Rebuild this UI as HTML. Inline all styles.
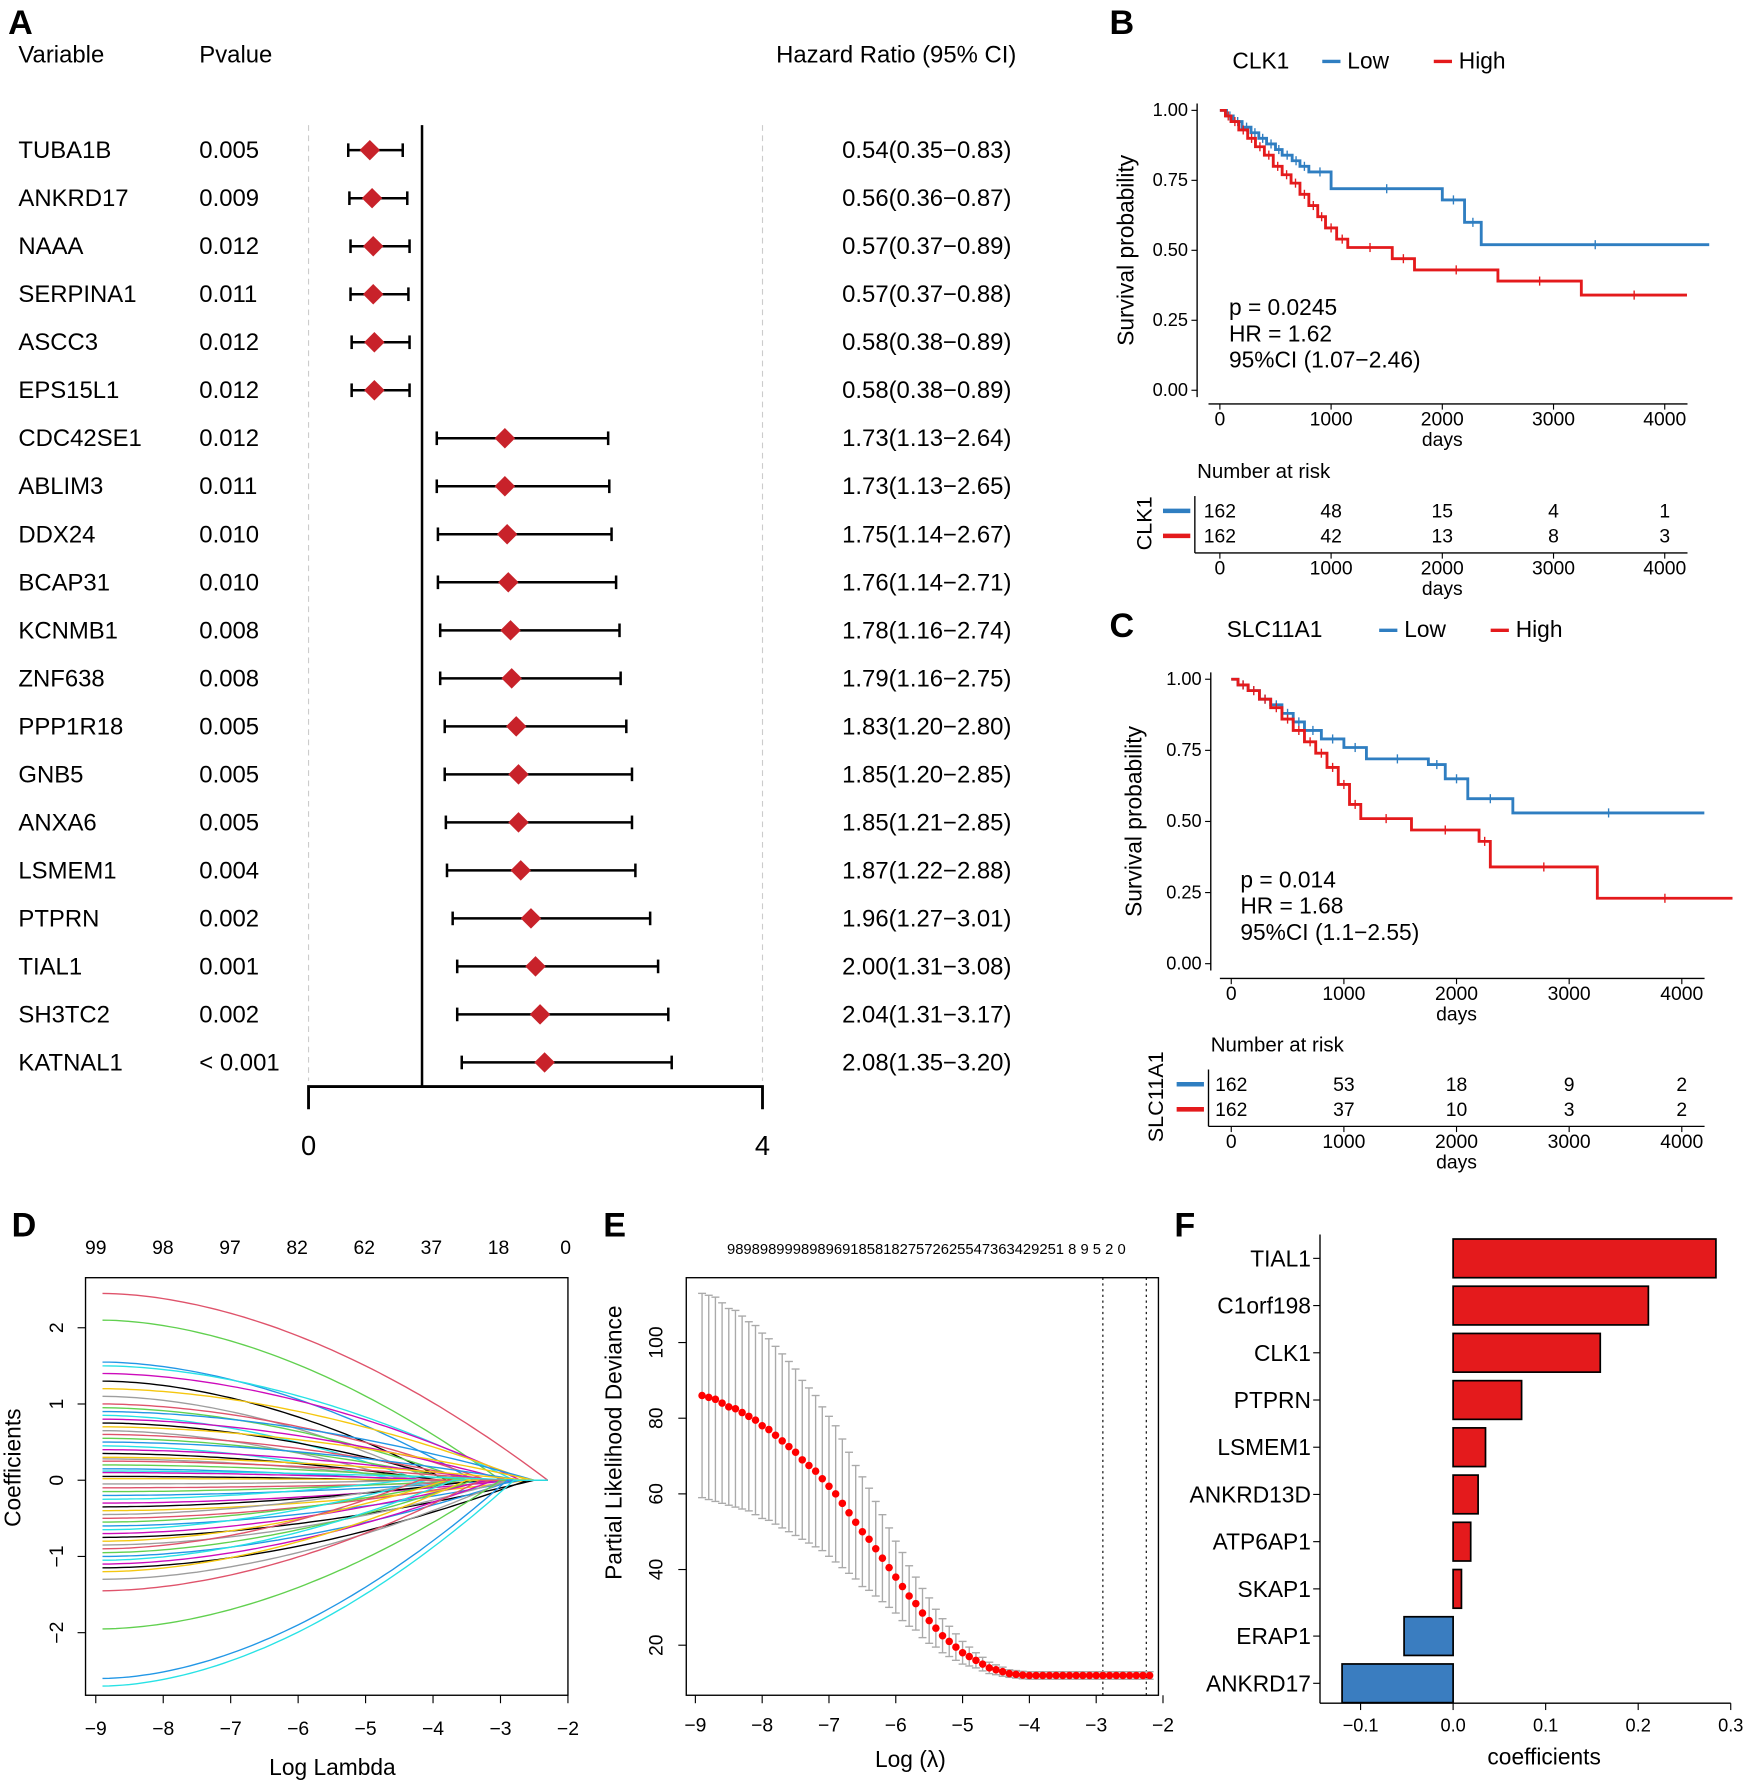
<!DOCTYPE html>
<html><head><meta charset="utf-8"><style>
html,body{margin:0;padding:0;background:#fff}
svg{display:block;font-family:"Liberation Sans",Arial,sans-serif}
</style></head><body>
<svg id="fig" width="1748" height="1784" viewBox="0 0 1536 1568" xmlns="http://www.w3.org/2000/svg"></svg>
<script>
// ---------- Panel A data ----------
const genes=["TUBA1B","ANKRD17","NAAA","SERPINA1","ASCC3","EPS15L1","CDC42SE1","ABLIM3","DDX24","BCAP31","KCNMB1","ZNF638","PPP1R18","GNB5","ANXA6","LSMEM1","PTPRN","TIAL1","SH3TC2","KATNAL1"];
const pvals=["0.005","0.009","0.012","0.011","0.012","0.012","0.012","0.011","0.010","0.010","0.008","0.008","0.005","0.005","0.005","0.004","0.002","0.001","0.002","< 0.001"];
const hr=[0.54,0.56,0.57,0.57,0.58,0.58,1.73,1.73,1.75,1.76,1.78,1.79,1.83,1.85,1.85,1.87,1.96,2.00,2.04,2.08];
const lo=[0.35,0.36,0.37,0.37,0.38,0.38,1.13,1.13,1.14,1.14,1.16,1.16,1.20,1.20,1.21,1.22,1.27,1.31,1.31,1.35];
const hi=[0.83,0.87,0.89,0.88,0.89,0.89,2.64,2.65,2.67,2.71,2.74,2.75,2.80,2.85,2.85,2.88,3.01,3.08,3.17,3.20];
// ---------- KM data ----------
const bLowT=[60,120,200,280,350,420,500,560,650,720,800,1000,2000,2200,2350];
const bLowS=[0.98,0.96,0.94,0.92,0.90,0.88,0.86,0.84,0.82,0.80,0.78,0.72,0.68,0.60,0.52];
const bHighT=[50,100,170,250,320,400,480,560,640,720,800,880,950,1050,1150,1550,1750,2500,3250];
const bHighS=[0.98,0.96,0.93,0.90,0.87,0.84,0.80,0.77,0.74,0.70,0.66,0.62,0.58,0.54,0.51,0.47,0.43,0.39,0.34];
const cLowT=[60,150,250,350,450,550,650,800,1000,1200,1750,1900,2100,2500];
const cLowS=[0.98,0.96,0.93,0.91,0.88,0.85,0.82,0.79,0.76,0.72,0.70,0.65,0.58,0.53];
const cHighT=[60,150,250,350,450,550,650,750,850,950,1050,1150,1600,2200,2300,3250];
const cHighS=[0.98,0.96,0.93,0.90,0.86,0.82,0.78,0.74,0.69,0.63,0.56,0.51,0.47,0.43,0.34,0.23];
const bRiskLow=[162,48,15,4,1], bRiskHigh=[162,42,13,8,3];
const cRiskLow=[162,53,18,9,2], cRiskHigh=[162,37,10,3,2];
// ---------- Panel D data ----------
const dStart=[2.45,2.1,1.55,1.5,1.4,1.3,1.2,1.1,1.0,0.95,0.9,0.85,0.8,0.75,0.7,0.65,0.6,0.55,0.5,0.45,0.4,0.35,0.3,0.28,0.25,0.2,0.15,0.12,0.1,0.05,0.02,-0.05,-0.1,-0.15,-0.2,-0.25,-0.3,-0.35,-0.4,-0.45,-0.5,-0.55,-0.6,-0.65,-0.7,-0.75,-0.8,-0.85,-0.9,-0.95,-1.0,-1.05,-1.1,-1.15,-1.2,-1.3,-1.45,-1.95,-2.6,-2.7];
const dZero=[-2.3,-3.0,-3.4,-2.8,-2.7,-3.8,-2.6,-4.0,-3.2,-3.5,-2.5,-4.2,-2.9,-3.7,-2.5,-4.4,-3.3,-3.6,-2.7,-4.5,-3.1,-3.9,-2.6,-4.1,-3.0,-3.4,-4.3,-2.7,-3.8,-4.6,-3.2,-4.0,-2.5,-3.5,-3.0,-4.4,-2.8,-3.3,-2.6,-3.9,-3.1,-3.6,-2.7,-4.1,-3.2,-2.5,-3.8,-2.9,-4.2,-3.4,-2.8,-3.7,-3.1,-2.6,-3.5,-2.9,-3.3,-3.0,-2.9,-2.8];
// ---------- Panel E data ----------
const eLambda=[];for(let i=0;i<68;i++)eLambda.push(-8.9+i*0.1);
const eMean=[86,85.5,85,84,83,82.5,81.5,80.5,79.5,78,77,75.5,74,72.5,71,69,67.5,66,64,62,60,57.5,55,52.5,50,48,45.5,43,40.5,38,35.5,33,31,28.5,26.5,24.5,22.5,21,19.5,18,17,16,15,14,13.5,13,12.5,12.3,12.1,12,12,12,12,12,12,12,12,12,12,12,12,12,12,12,12,12,12,12];
const eSd=[27,27,27,26.5,26,26,25.5,25,25,24.5,24,23.5,23,22.5,22,21,20.5,20,19,18.5,18,17,16,15,14.5,13.5,12.5,11.5,10.5,9.5,9,8,7,6.5,6,5,4.5,4,3.5,3,2.5,2,1.8,1.5,1.3,1.2,1,1,1,1,1,1,1,1,1,1,1,1,1,1,1,1,1,1,1,1,1,1];
// ---------- Panel F data ----------
const fGenes=["TIAL1","C1orf198","CLK1","PTPRN","LSMEM1","ANKRD13D","ATP6AP1","SKAP1","ERAP1","ANKRD17"];
const fCoef=[0.284,0.211,0.159,0.074,0.035,0.027,0.019,0.009,-0.053,-0.120];
const fTicks=[-0.1,0.0,0.1,0.2,0.3];

const svg=document.getElementById('fig');
const NS="http://www.w3.org/2000/svg";
function el(tag,attrs,parent){const e=document.createElementNS(NS,tag);for(const k in attrs)e.setAttribute(k,attrs[k]);(parent||svg).appendChild(e);return e;}
function txt(x,y,s,size,anchor,parent,extra){const t=el('text',Object.assign({x:x,y:y,'font-size':size,'text-anchor':anchor||'start',fill:'#000'},extra||{}),parent);t.textContent=s;return t;}
function grp(name){const g=el('g',{});return g;}

[["A",7,30],["B",975,30],["C",975,560],["D",10,1087],["E",530,1087],["F",1032,1087]].forEach(p=>{
  const t=txt(p[1],p[2],p[0],30,'start',null,{'font-weight':'bold'});
  
  
});

// ===== Panel A =====
(function(){
  const g=grp('forest-plot');
  const xA=v=>271+v*(670-271)/4;
  const yA=i=>132+i*42.2;
  txt(16,55,"Variable",21,'start',g);txt(175,55,"Pvalue",21,'start',g);txt(682,55,"Hazard Ratio (95% CI)",21,'start',g);
  el('line',{x1:xA(0),y1:110,x2:xA(0),y2:950,stroke:'#ccc','stroke-dasharray':'5,4'},g);
  el('line',{x1:xA(4),y1:110,x2:xA(4),y2:950,stroke:'#ccc','stroke-dasharray':'5,4'},g);
  el('line',{x1:xA(1),y1:110,x2:xA(1),y2:955,stroke:'#000','stroke-width':2.2},g);
  const ax=el('path',{d:`M${xA(0)},975 V955 H${xA(4)} V975`,fill:'none',stroke:'#000','stroke-width':2.5},g);
  
  txt(xA(0),1015,"0",24,'middle',g);txt(xA(4),1015,"4",24,'middle',g);
  genes.forEach((n,i)=>{
    const y=yA(i);
    const r=grp('forest-row');g.appendChild(r);
    txt(16,y+7,n,21,'start',r);txt(175,y+7,pvals[i],21,'start',r);
    txt(740,y+7,hr[i].toFixed(2)+"("+lo[i].toFixed(2)+"\u2212"+hi[i].toFixed(2)+")",21,'start',r);
    el('line',{x1:xA(lo[i]),y1:y,x2:xA(hi[i]),y2:y,stroke:'#000','stroke-width':2.2},r);
    el('line',{x1:xA(lo[i]),y1:y-6,x2:xA(lo[i]),y2:y+6,stroke:'#000','stroke-width':2.2},r);
    el('line',{x1:xA(hi[i]),y1:y-6,x2:xA(hi[i]),y2:y+6,stroke:'#000','stroke-width':2.2},r);
    const c=xA(hr[i]);
    const d=el('path',{d:`M${c},${y-9} L${c+9},${y} L${c},${y+9} L${c-9},${y} Z`,fill:'#C8222A'},r);
    
  });
})();

// ===== KM panels =====
function km(o){
  const g=grp(o.name);
  const X=t=>o.x0+t*(o.x4-o.x0)/4000;
  const Y=s=>o.y0-s*(o.y0-o.y1);
  txt(o.lx,o.ly,o.gene,20,'start',g);
  el('line',{x1:o.lb,y1:o.ly-6,x2:o.lb+16,y2:o.ly-6,stroke:'#2F7EC1','stroke-width':3},g);
  txt(o.lb+22,o.ly,"Low",20,'start',g);
  el('line',{x1:o.lr,y1:o.ly-6,x2:o.lr+16,y2:o.ly-6,stroke:'#E41A1C','stroke-width':3},g);
  txt(o.lr+22,o.ly,"High",20,'start',g);
  el('line',{x1:o.ax,y1:o.y1-6,x2:o.ax,y2:o.y0+6,stroke:'#000','stroke-width':1.2},g);
  el('line',{x1:o.x0-10,y1:o.bx,x2:o.x4+20,y2:o.bx,stroke:'#000','stroke-width':1.2},g);
  [0,0.25,0.5,0.75,1].forEach(v=>{
    el('line',{x1:o.ax-5,y1:Y(v),x2:o.ax,y2:Y(v),stroke:'#000'},g);
    txt(o.ax-8,Y(v)+5,v.toFixed(2),16,'end',g);
  });
  [0,1000,2000,3000,4000].forEach(v=>{
    el('line',{x1:X(v),y1:o.bx,x2:X(v),y2:o.bx+5,stroke:'#000'},g);
    txt(X(v),o.bx+19,String(v),17,'middle',g);
  });
  txt(X(2000),o.bx+37,"days",17,'middle',g);
  txt(0,0,"Survival probability",20,'middle',g,{transform:`translate(${o.slx},${(o.y0+o.y1)/2}) rotate(-90)`});
  function step(T,S,end,col,nm){
    let d=`M${X(0)},${Y(1)}`;
    T.forEach((t,i)=>{d+=` H${X(t)} V${Y(S[i])}`;});
    d+=` H${X(end)}`;
    const p=el('path',{d:d,fill:'none',stroke:col,'stroke-width':2.5},g);
    
    T.forEach((t,i)=>{const xm=X((t+(i+1<T.length?T[i+1]:end))/2);el('line',{x1:xm,y1:Y(S[i])-4,x2:xm,y2:Y(S[i])+4,stroke:col,'stroke-width':1.2},g);});
  }
  step(o.lowT,o.lowS,o.lowEnd,'#2F7EC1','low-curve');
  step(o.highT,o.highS,o.highEnd,'#E41A1C','high-curve');
  o.stats.forEach((s,i)=>txt(o.stx,o.sty+i*23,s,20,'start',g));
  txt(o.ax,o.ry,"Number at risk",18,'start',g);
  el('line',{x1:o.rax,y1:o.ry+16,x2:o.rax,y2:o.ry+66,stroke:'#000','stroke-width':1.2},g);
  el('line',{x1:o.rax,y1:o.ry+66,x2:o.x4+20,y2:o.ry+66,stroke:'#000','stroke-width':1.2},g);
  el('line',{x1:o.rax-28,y1:o.ry+29,x2:o.rax-4,y2:o.ry+29,stroke:'#2F7EC1','stroke-width':4},g);
  el('line',{x1:o.rax-28,y1:o.ry+51,x2:o.rax-4,y2:o.ry+51,stroke:'#E41A1C','stroke-width':4},g);
  txt(0,0,o.gene,19,'middle',g,{transform:`translate(${o.rlx},${o.ry+40}) rotate(-90)`});
  [0,1000,2000,3000,4000].forEach((v,i)=>{
    txt(X(v),o.ry+35,String(o.rl[i]),17,'middle',g);
    txt(X(v),o.ry+57,String(o.rh[i]),17,'middle',g);
    el('line',{x1:X(v),y1:o.ry+66,x2:X(v),y2:o.ry+71,stroke:'#000'},g);
    txt(X(v),o.ry+85,String(v),17,'middle',g);
  });
  txt(X(2000),o.ry+103,"days",17,'middle',g);
}
km({name:'km-clk1',gene:'CLK1',x0:1072,x4:1463,y1:97,y0:343,ax:1052,bx:355,lx:1083,ly:60,lb:1162,lr:1260,slx:996,
  lowT:bLowT,lowS:bLowS,lowEnd:4400,highT:bHighT,highS:bHighS,highEnd:4200,
  stats:["p = 0.0245","HR = 1.62","95%CI (1.07\u22122.46)"],stx:1080,sty:277,ry:420,rax:1050,rlx:1012,rl:bRiskLow,rh:bRiskHigh});
km({name:'km-slc11a1',gene:'SLC11A1',x0:1082,x4:1478,y1:597,y0:847,ax:1064,bx:860,lx:1078,ly:560,lb:1212,lr:1310,slx:1003,
  lowT:cLowT,lowS:cLowS,lowEnd:4200,highT:cHighT,highS:cHighS,highEnd:4450,
  stats:["p = 0.014","HR = 1.68","95%CI (1.1\u22122.55)"],stx:1090,sty:780,ry:924,rax:1062,rlx:1022,rl:cRiskLow,rh:cRiskHigh});

// ===== Panel D =====
(function(){
  const g=grp('lasso-coefficient-paths');
  const X=l=>84+(l+9)*(499-84)/7;
  const Y=c=>1301-c*67;
  el('rect',{x:75,y:1123,width:424,height:367,fill:'none',stroke:'#000','stroke-width':1.2},g);
  [-9,-8,-7,-6,-5,-4,-3,-2].forEach(v=>{el('line',{x1:X(v),y1:1490,x2:X(v),y2:1497,stroke:'#000'},g);txt(X(v),1525,String(v).replace('-','\u2212'),17,'middle',g);});
  [-2,-1,0,1,2].forEach(v=>{el('line',{x1:68,y1:Y(v),x2:75,y2:Y(v),stroke:'#000'},g);txt(0,0,String(v).replace('-','\u2212'),17,'middle',g,{transform:`translate(55,${Y(v)}) rotate(-90)`});});
  const top=[99,98,97,82,62,37,18,0];
  top.forEach((v,i)=>txt(84+i*59,1102,String(v),17,'middle',g));
  txt(292,1560,"Log Lambda",20,'middle',g);
  txt(0,0,"Coefficients",20,'middle',g,{transform:'translate(18,1290) rotate(-90)'});
  const cols=['#DF536B','#61D04F','#2297E6','#28E2E5','#CD0BBC','#000000','#F5C710','#9E9E9E'];
  dStart.forEach((s,i)=>{
    const lz=dZero[i];let d='';
    for(let l=-8.9;l<=-2.25;l+=0.1){
      const t=(l+8.9)/(lz+8.9);
      const f=t<1?1-Math.pow(t,1.8):0;
      d+=(d?' L':'M')+X(l).toFixed(1)+','+Y(s*f).toFixed(1);
    }
    const p=el('path',{d:d,fill:'none',stroke:cols[i%cols.length],'stroke-width':1.2},g);
    
  });
})();

// ===== Panel E =====
(function(){
  const g=grp('lasso-cv-deviance');
  const X=l=>611+(l+9)*(1022-611)/7;
  const Y=v=>1446-(v-20)*(1446-1180)/80;
  el('rect',{x:603,y:1123,width:415,height:367,fill:'none',stroke:'#000','stroke-width':1.2},g);
  [-9,-8,-7,-6,-5,-4,-3,-2].forEach(v=>{el('line',{x1:X(v),y1:1490,x2:X(v),y2:1497,stroke:'#000'},g);txt(X(v),1522,String(v).replace('-','\u2212'),17,'middle',g);});
  [20,40,60,80,100].forEach(v=>{el('line',{x1:596,y1:Y(v),x2:603,y2:Y(v),stroke:'#000'},g);txt(0,0,String(v),17,'middle',g,{transform:`translate(582,${Y(v)}) rotate(-90)`});});
  txt(800,1553,"Log (\u03bb)",20,'middle',g);
  txt(0,0,"Partial Likelihood Deviance",20,'middle',g,{transform:'translate(546,1268) rotate(-90)'});
  txt(814,1102,"98989899989896918581827572625547363429251 8  9 5 2 0",13,'middle',g);
  el('line',{x1:X(-2.9),y1:1123,x2:X(-2.9),y2:1490,stroke:'#000','stroke-dasharray':'2,3'},g);
  el('line',{x1:X(-2.25),y1:1123,x2:X(-2.25),y2:1490,stroke:'#000','stroke-dasharray':'2,3'},g);
  eLambda.forEach((l,i)=>{
    const x=X(l),u=Y(eMean[i]+eSd[i]),b=Y(eMean[i]-eSd[i]);
    el('line',{x1:x,y1:u,x2:x,y2:b,stroke:'#aaa','stroke-width':1.2},g);
    el('line',{x1:x-3.5,y1:u,x2:x+3.5,y2:u,stroke:'#aaa','stroke-width':1.2},g);
    el('line',{x1:x-3.5,y1:b,x2:x+3.5,y2:b,stroke:'#aaa','stroke-width':1.2},g);
  });
  eLambda.forEach((l,i)=>{
    const c=el('circle',{cx:X(l),cy:Y(eMean[i]),r:3.3,fill:'#FF0000'},g);
    
  });
})();

// ===== Panel F =====
(function(){
  const g=grp('coefficient-bars');
  const X=v=>1277+v*(1521-1277)/0.3;
  const Y=i=>1106+i*41.5;
  el('line',{x1:1160,y1:1085,x2:1160,y2:1497,stroke:'#000','stroke-width':1.2},g);
  el('line',{x1:1160,y1:1497,x2:1521,y2:1497,stroke:'#000','stroke-width':1.2},g);
  fTicks.forEach(v=>{el('line',{x1:X(v),y1:1497,x2:X(v),y2:1503,stroke:'#000'},g);txt(X(v),1522,(v<0?'\u2212':'')+Math.abs(v).toFixed(1),16,'middle',g);});
  txt(1357,1551,"coefficients",20,'middle',g);
  fGenes.forEach((n,i)=>{
    const y=Y(i),v=fCoef[i];
    el('line',{x1:1154,y1:y,x2:1160,y2:y,stroke:'#000'},g);
    txt(1152,y+7,n,20,'end',g);
    const r=el('rect',{x:Math.min(X(0),X(v)),y:y-17,width:Math.abs(X(v)-X(0)),height:34,fill:v>0?'#E41A1C':'#3A7DC0',stroke:'#000','stroke-width':1.5},g);
    
  });
})();
</script>
</body></html>
